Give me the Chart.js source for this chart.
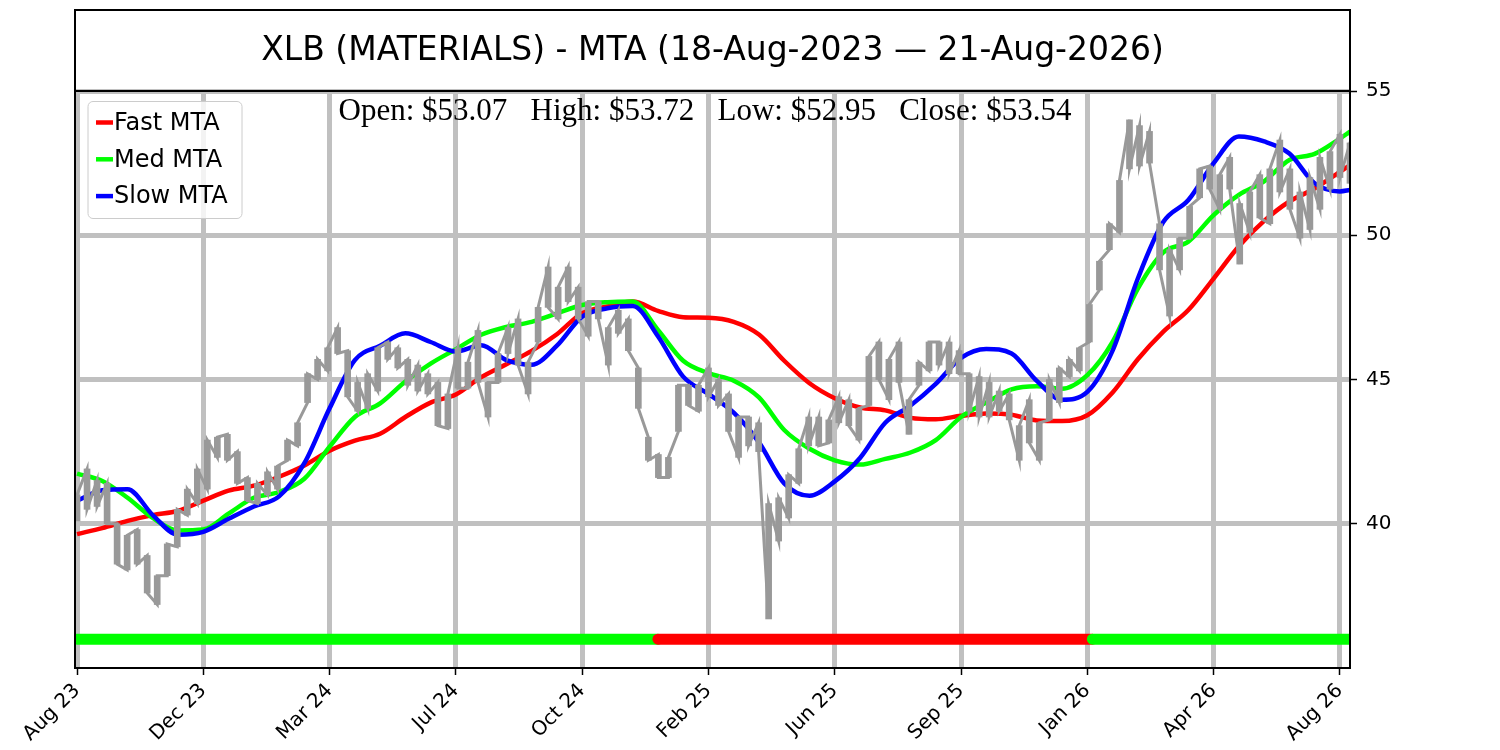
<!DOCTYPE html>
<html>
<head>
<meta charset="utf-8">
<script src="https://cdn.jsdelivr.net/npm/chart.js@4.4.1/dist/chart.umd.min.js"></script>
<style>
  html, body { margin: 0; padding: 0; background: #fff; }
  #wrap { width: 1500px; height: 750px; }
</style>
</head>
<body>
<div id="wrap"><canvas id="chart" width="1500" height="750"></canvas></div>
<script>
// XLB moving-trend chart

const titleText = 'XLB (MATERIALS) - MTA (18-Aug-2023 \u2014 21-Aug-2026)'
const openPrice = 53.07
const highPrice = 53.72
const lowPrice = 52.95
const closePrice = 53.54

// x axis is trading-day index, one tick every 75 bars
const lastBar = 756
const tickIndex = [0, 75, 150, 225, 300, 375, 450, 525, 600, 675, 750]
const tickLabels = ['Aug 23', 'Dec 23', 'Mar 24', 'Jul 24', 'Oct 24', 'Feb 25', 'Jun 25', 'Sep 25', 'Jan 26', 'Apr 26', 'Aug 26']
const yTicks = [40, 45, 50, 55]

// price range, sampled evenly across the bars (low / high of each sample)
const priceLow = [
  40.1, 40.5, 40.6, 40.0, 38.6, 38.4, 38.6, 37.6, 37.2, 38.2,
  39.2, 40.3, 40.7, 41.2, 42.3, 42.2, 41.4, 40.8, 40.7, 41.0,
  41.2, 42.2, 42.7, 44.2, 45.0, 45.3, 45.9, 44.4, 43.9, 44.0,
  44.6, 45.7, 45.4, 44.8, 44.6, 44.5, 43.4, 43.3, 44.7, 44.7,
  44.9, 43.7, 44.9, 45.9, 45.5, 44.5, 46.3, 47.5, 47.1, 47.7,
  47.1, 46.5, 47.1, 45.5, 46.6, 46.0, 44.0, 42.2, 41.6, 41.6,
  43.2, 44.1, 43.9, 44.4, 44.1, 43.2, 42.3, 42.7, 42.5, 36.7,
  39.4, 40.2, 41.4, 42.7, 42.7, 42.8, 43.5, 43.4, 42.9, 44.1,
  45.0, 44.3, 44.9, 43.1, 44.8, 45.3, 45.5, 45.2, 45.2, 43.9,
  43.7, 43.7, 43.9, 43.6, 42.2, 42.8, 42.2, 43.6, 44.2, 45.1,
  45.3, 46.3, 48.1, 49.5, 50.1, 52.3, 52.4, 52.5, 48.8, 47.2,
  48.8, 49.9, 51.3, 51.6, 50.9, 51.6, 49.0, 50.1, 50.6, 50.4,
  51.5, 50.9, 49.9, 50.2, 50.9, 51.6, 52.0, 51.8
]
const priceHigh = [
  41.0, 41.9, 41.5, 41.4, 40.0, 39.6, 39.8, 38.9, 38.2, 39.3,
  40.5, 41.2, 41.9, 42.9, 43.0, 43.1, 42.5, 41.6, 41.4, 41.8,
  42.0, 42.9, 43.5, 45.2, 45.7, 46.1, 46.8, 46.0, 44.9, 45.2,
  46.1, 46.3, 46.1, 45.7, 45.5, 45.2, 44.9, 44.5, 46.1, 45.6,
  46.7, 44.9, 45.9, 46.8, 47.1, 45.6, 47.5, 48.9, 48.2, 48.9,
  48.2, 47.7, 47.7, 46.8, 47.4, 47.1, 45.4, 43.0, 42.4, 42.3,
  44.8, 44.8, 44.8, 45.4, 45.0, 44.5, 43.7, 43.7, 43.5, 40.7,
  40.9, 41.7, 42.6, 43.7, 43.7, 43.6, 44.4, 44.3, 44.0, 45.8,
  46.3, 45.7, 46.3, 44.3, 45.6, 46.3, 46.3, 46.3, 46.0, 45.2,
  45.1, 44.9, 44.6, 44.5, 43.4, 44.3, 43.5, 45.0, 45.4, 45.7,
  46.1, 47.6, 49.1, 50.4, 51.9, 54.0, 53.8, 53.6, 50.4, 49.5,
  49.9, 51.0, 52.3, 52.4, 52.1, 52.7, 51.1, 51.5, 52.1, 52.3,
  53.3, 52.3, 51.5, 52.0, 52.7, 52.9, 53.5, 53.2
]

// moving trend averages, read every 15 bars
const maIndex = [
  0, 15, 30, 45, 60, 75, 90, 105, 120, 135,
  150, 165, 180, 195, 210, 225, 240, 255, 270, 285,
  300, 315, 330, 345, 360, 375, 390, 405, 420, 435,
  450, 465, 480, 495, 510, 525, 540, 555, 570, 585,
  600, 615, 630, 645, 660, 675, 690, 705, 720, 735,
  750, 756
]
const fastMTA = [
  39.64, 39.85, 40.10, 40.30, 40.45, 40.80, 41.15, 41.32, 41.63, 42.02,
  42.53, 42.88, 43.12, 43.70, 44.20, 44.48, 45.08, 45.53, 45.99, 46.57,
  47.30, 47.53, 47.70, 47.38, 47.16, 47.14, 47.00, 46.56, 45.65, 44.87,
  44.35, 44.03, 43.93, 43.67, 43.62, 43.74, 43.82, 43.78, 43.58, 43.56,
  43.76, 44.55, 45.70, 46.65, 47.41, 48.50, 49.62, 50.50, 51.17, 51.62,
  52.20, 52.43
]
const medMTA = [
  41.74, 41.48, 40.90, 40.20, 39.77, 39.80, 40.35, 40.90, 41.10, 41.56,
  42.67, 43.70, 44.17, 44.93, 45.55, 46.05, 46.55, 46.82, 47.00, 47.29,
  47.58, 47.68, 47.70, 46.72, 45.65, 45.22, 44.96, 44.38, 43.25, 42.60,
  42.20, 42.05, 42.25, 42.47, 42.90, 43.70, 44.20, 44.66, 44.77, 44.68,
  45.15, 46.30, 48.15, 49.40, 49.78, 50.70, 51.40, 51.87, 52.61, 52.82,
  53.35, 53.59
]
const slowMTA = [
  40.80, 41.16, 41.20, 40.30, 39.62, 39.72, 40.17, 40.60, 40.95, 42.10,
  44.00, 45.67, 46.17, 46.60, 46.30, 45.97, 46.19, 45.67, 45.51, 46.17,
  47.18, 47.47, 47.55, 46.50, 45.10, 44.50, 43.85, 42.82, 41.40, 40.97,
  41.47, 42.28, 43.50, 44.10, 44.85, 45.75, 46.06, 45.90, 44.95, 44.30,
  44.57, 46.00, 48.50, 50.45, 51.22, 52.50, 53.42, 53.25, 52.83, 51.80,
  51.52, 51.57
]

// trend signal strip along the bottom
const signalLevel = 36
const signalStart = [0, 345, 603]
const signalEnd = [345, 603, 756]
const signalUp = [true, false, true]

const sampleStep = lastBar / (priceLow.length - 1)
const toPoints = (xs, ys) => ys.map((v, i) => ({x: xs[i], y: v}))

// walk each sample's low/high in the direction of the next sample
let pricePath = []
priceLow.forEach((lo, k) => {
  let hi = priceHigh[k]
  let x = k * sampleStep
  let goingUp = k < priceLow.length - 1 && (priceLow[k + 1] + priceHigh[k + 1]) > (lo + hi)
  if (goingUp) {
    pricePath.push({x: x, y: lo}, {x: x, y: hi})
  } else {
    pricePath.push({x: x, y: hi}, {x: x, y: lo})
  }
})

let datasets = []

datasets.push({
  type: 'bar',
  label: 'price',
  data: priceLow.map((lo, k) => ({x: k * sampleStep, y: [lo, priceHigh[k]]})),
  backgroundColor: '#999999',
  barThickness: 6,
  order: 1
})
datasets.push({
  type: 'line',
  label: 'price path',
  data: pricePath,
  borderColor: '#999999',
  borderWidth: 3,
  pointRadius: 0,
  tension: 0,
  order: 1
})

const maSeries = [
  {label: 'Fast MTA', values: fastMTA, color: '#ff0000', order: 4},
  {label: 'Med MTA', values: medMTA, color: '#00ff00', order: 3},
  {label: 'Slow MTA', values: slowMTA, color: '#0000ff', order: 2}
]
maSeries.forEach(s => {
  datasets.push({
    type: 'line',
    label: s.label,
    data: toPoints(maIndex, s.values),
    borderColor: s.color,
    borderWidth: 4.5,
    pointRadius: 0,
    cubicInterpolationMode: 'monotone',
    order: s.order,
    isMTA: true
  })
})

// later strip pieces sit on top so their round cap covers the join
signalStart.forEach((start, i) => {
  datasets.push({
    type: 'line',
    label: 'signal ' + i,
    data: [{x: start, y: signalLevel}, {x: signalEnd[i], y: signalLevel}],
    borderColor: signalUp[i] ? '#00ff00' : '#ff0000',
    borderWidth: 11,
    borderCapStyle: 'round',
    pointRadius: 0,
    order: 10 - i
  })
})

const decorPlugin = {
  id: 'decor',
  afterDraw(chart) {
    const ctx = chart.ctx
    const a = chart.chartArea
    ctx.save()
    ctx.strokeStyle = '#000'
    ctx.lineWidth = 2
    ctx.strokeRect(a.left, a.top, a.right - a.left, a.bottom - a.top)
    ctx.strokeRect(a.left, 10, a.right - a.left, a.top - 10)

    ctx.fillStyle = '#000'
    ctx.textAlign = 'center'
    ctx.textBaseline = 'middle'
    ctx.font = '33px "DejaVu Sans"'
    ctx.fillText(titleText, (a.left + a.right) / 2, 51)

    ctx.textBaseline = 'alphabetic'
    ctx.font = '31px "Liberation Serif"'
    let ohlcText = 'Open: $' + openPrice.toFixed(2) + '   High: $' + highPrice.toFixed(2) +
      '   Low: $' + lowPrice.toFixed(2) + '   Close: $' + closePrice.toFixed(2)
    ctx.fillText(ohlcText, 705, 120)

    // legend box inside the plot, top left
    ctx.beginPath()
    ctx.roundRect(88, 101.5, 154, 117, 5)
    ctx.fillStyle = 'rgba(255,255,255,0.8)'
    ctx.fill()
    ctx.strokeStyle = '#cccccc'
    ctx.lineWidth = 1
    ctx.stroke()
    let items = chart.data.datasets.filter(d => d.isMTA)
    ctx.font = '24px "DejaVu Sans"'
    ctx.textAlign = 'left'
    ctx.textBaseline = 'middle'
    items.forEach((d, i) => {
      let y = 122.5 + i * 36.8
      ctx.strokeStyle = d.borderColor
      ctx.lineWidth = 4.5
      ctx.beginPath()
      ctx.moveTo(96, y)
      ctx.lineTo(113, y)
      ctx.stroke()
      ctx.fillStyle = '#000'
      ctx.fillText(d.label, 114, y + 1)
    })
    ctx.restore()
  }
}

const gridStyle = {
  color: '#c0c0c0',
  lineWidth: 5,
  tickColor: '#000',
  tickLength: 7,
  tickWidth: 1.5,
  offset: false
}

new Chart(document.getElementById('chart'), {
  type: 'line',
  data: {datasets: datasets},
  options: {
    responsive: false,
    animation: false,
    devicePixelRatio: 1,
    layout: {padding: {left: 75, top: 91, right: 0, bottom: 0}},
    plugins: {
      legend: {display: false},
      tooltip: {enabled: false}
    },
    scales: {
      x: {
        type: 'linear',
        position: 'bottom',
        min: -1.2,
        max: lastBar,
        offset: false,
        grid: gridStyle,
        border: {display: false},
        afterBuildTicks: s => { s.ticks = tickIndex.map(v => ({value: v})) },
        afterFit: s => { s.height = 82 },
        ticks: {
          autoSkip: false,
          maxRotation: 45,
          minRotation: 45,
          padding: 4,
          color: '#000',
          font: {family: 'DejaVu Sans', size: 20},
          callback: v => {
            let i = tickIndex.indexOf(v)
            return i >= 0 ? tickLabels[i] : ''
          }
        }
      },
      y: {
        type: 'linear',
        position: 'right',
        min: 35,
        max: 55,
        grid: gridStyle,
        border: {display: false},
        afterBuildTicks: s => { s.ticks = yTicks.map(v => ({value: v})) },
        afterFit: s => { s.width = 150 },
        ticks: {
          padding: 9,
          color: '#000',
          font: {family: 'DejaVu Sans', size: 20}
        }
      }
    }
  },
  plugins: [decorPlugin]
})
</script>
</body>
</html>
